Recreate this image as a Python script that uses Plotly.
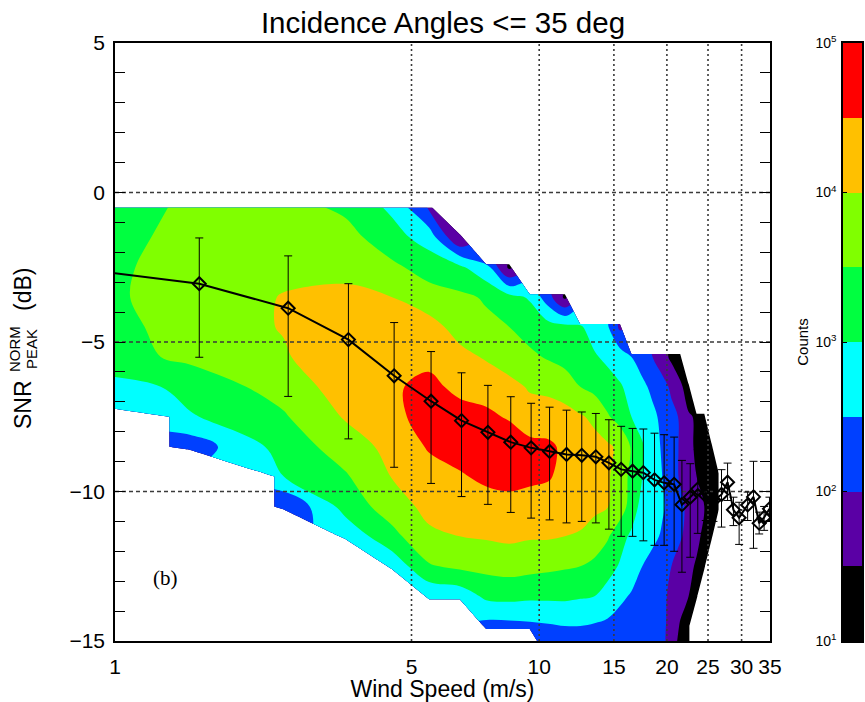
import numpy as np
import plotly.graph_objects as go

N = None

# Grid nodes of the 2-D histogram (wind-speed bin centres, SNR bin centres)
wind_nodes = [0.5, 1.5, 2.5, 3.5, 4.5, 5.5, 6.5, 7.5, 8.5, 9.5, 10.5, 11.5, 12.5, 13.5,
              14.5, 15.5, 16.5, 17.5, 18.5, 19.5, 20.5, 21.5, 22.5, 23.5, 24.5, 25.5, 26.5]
snr_nodes = [-0.5, -1.5, -2.5, -3.5, -4.5, -5.5, -6.5, -7.5, -8.5, -9.5, -10.5, -11.5,
             -12.5, -13.5, -14.5, -15.5]

# log10(counts) for each wind column, SNR rows from -0.5 dB down to -15.5 dB
w00_5 = [3.0, 2.86, 2.9, 2.9, 2.8, 2.9, 1.8, N, N, N, N, N, N, N, N, N]
w01_5 = [3.56, 3.65, 3.72, 3.75, 3.7, 3.6, 3.2, 2.95, 2.2, N, N, N, N, N, N, N]
w02_5 = [3.7, 3.85, 3.9, 4.02, 4.03, 3.95, 3.7, 3.45, 3.2, 3.0, 2.0, N, N, N, N, N]
w03_5 = [3.4, 3.68, 3.9, 4.08, 4.3, 4.35, 4.25, 4.05, 3.75, 3.45, 3.2, 2.65, N, N, N, N]
w04_5 = [2.9, 3.2, 3.6, 4.0, 4.3, 4.4, 4.45, 4.4, 4.15, 4.02, 3.75, 3.35, 2.65, N, N, N]
w05_5 = [1.95, 2.77, 3.3, 3.7, 4.2, 4.4, 4.6, 4.65, 4.55, 4.3, 4.15, 3.9, 3.45, 2.6, N, N]
w06_5 = [N, 1.5, 3.1, 3.6, 3.8, 4.15, 4.4, 4.65, 4.7, 4.45, 4.2, 4.0, 3.6, 2.7, N, N]
w07_5 = [N, N, 2.6, 3.45, 3.6, 3.95, 4.3, 4.6, 4.75, 4.6, 4.3, 4.05, 3.65, 3.1, 2.35, N]
w08_5 = [N, N, 1.4, 3.15, 3.5, 3.75, 4.15, 4.45, 4.8, 4.65, 4.35, 4.1, 3.7, 3.15, 2.35, N]
w09_5 = [N, N, N, 2.95, 3.3, 3.6, 3.95, 4.2, 4.65, 4.6, 4.3, 4.05, 3.65, 3.1, 2.4, N]
w10_5 = [N, N, N, 2.2, 3.2, 3.45, 3.9, 4.2, 4.6, 4.55, 4.25, 4.05, 3.6, 3.1, 2.45, 1.9]
w11_5 = [N, N, N, 1.4, 3.15, 3.3, 3.8, 4.15, 4.4, 4.35, 4.25, 4.0, 3.55, 3.1, 2.5, 2.1]
w12_5 = [N, N, N, N, 3.05, 3.2, 3.5, 4.05, 4.2, 4.2, 4.2, 3.95, 3.5, 3.05, 2.5, 2.15]
w13_5 = [N, N, N, N, 2.8, 3.05, 3.35, 3.9, 4.15, 4.1, 4.12, 3.75, 3.4, 3.0, 2.45, 2.1]
w14_5 = [N, N, N, N, 2.55, 2.9, 3.2, 3.55, 4.08, 4.05, 4.02, 3.55, 3.2, 2.8, 2.4, 2.1]
w15_5 = [N, N, N, N, 1.9, 2.75, 3.05, 3.3, 3.9, 3.8, 3.75, 3.2, 2.95, 2.6, 2.3, 2.05]
w16_5 = [N, N, N, N, N, 2.5, 2.85, 3.0, 3.45, 3.35, 3.3, 2.9, 2.75, 2.45, 2.25, 2.05]
w17_5 = [N, N, N, N, N, 2.3, 2.6, 2.8, 3.05, 3.0, 2.8, 2.75, 2.5, 2.3, 2.2, 2.0]
w18_5 = [N, N, N, N, N, 2.0, 2.4, 2.6, 2.7, 2.75, 2.7, 2.6, 2.35, 2.2, 2.15, 2.0]
w19_5 = [N, N, N, N, N, 1.7, 2.2, 2.4, 2.45, 2.5, 2.55, 2.45, 2.2, 2.1, 2.1, 2.0]
w20_5 = [N, N, N, N, N, 1.4, 1.9, 2.15, 2.2, 2.2, 2.35, 2.25, 2.0, 1.9, 1.85, 1.7]
w21_5 = [N, N, N, N, N, 1.15, 1.6, 1.95, 1.95, 1.95, 2.1, 2.05, 1.8, 1.7, 1.45, 1.25]
w22_5 = [N, N, N, N, N, N, 1.25, 1.55, 1.65, 1.7, 1.9, 1.85, 1.6, 1.5, 1.1, 1.05]
w23_5 = [N, N, N, N, N, N, N, 1.45, 1.4, 1.5, 1.7, 1.6, 1.45, 1.3, N, N]
w24_5 = [N, N, N, N, N, N, N, 1.2, 1.3, 1.35, 1.5, 1.4, 1.2, N, N, N]
w25_5 = [N, N, N, N, N, N, N, N, 1.1, 1.2, 1.3, 1.2, N, N, N, N]
w26_5 = [N, N, N, N, N, N, N, N, N, 1.1, 1.1, N, N, N, N, N]

columns = [w00_5, w01_5, w02_5, w03_5, w04_5, w05_5, w06_5, w07_5, w08_5, w09_5,
           w10_5, w11_5, w12_5, w13_5, w14_5, w15_5, w16_5, w17_5, w18_5, w19_5,
           w20_5, w21_5, w22_5, w23_5, w24_5, w25_5, w26_5]

# Binned mean SNR with spread, per wind-speed bin
wind_mean = [0.56, 1.58, 2.56, 3.55, 4.55, 5.56, 6.56, 7.57, 8.57, 9.57, 10.58, 11.6,
             12.6, 13.6, 14.6, 15.6, 16.6, 17.6, 18.7, 19.7, 20.8, 21.7, 22.7, 23.65,
             24.7, 25.75, 26.9, 27.8, 28.7, 29.6, 31.0, 32.0, 33.0, 33.9, 34.9]
snr_mean = [-2.25, -3.05, -3.87, -4.92, -6.13, -6.98, -7.63, -8.02, -8.35, -8.54, -8.66,
            -8.76, -8.79, -8.84, -9.04, -9.26, -9.32, -9.37, -9.61, -9.71, -9.76, -10.44,
            -10.19, -9.92, -10.14, -10.3, -10.1, -9.69, -10.61, -10.88, -10.45, -10.18,
            -11.06, -10.87, -10.58]
snr_upper = [-0.6, -1.52, -2.12, -3.05, -4.35, -5.32, -6.03, -6.45, -6.83, -7.05, -7.18,
             -7.28, -7.34, -7.39, -7.6, -7.82, -7.89, -7.91, -8.05, -8.1, -8.18, -8.96,
             -9.07, -8.6, -9.52, -9.6, -9.27, -9.05, -10.19, -10.36, -10.02, -8.99,
             -10.69, -10.5, -10.19]
snr_lower = [-4.2, -5.51, -6.82, -8.24, -9.19, -9.73, -10.17, -10.43, -10.7, -10.89,
             -10.95, -11.05, -11.0, -11.05, -11.26, -11.5, -11.5, -11.65, -11.8, -11.8,
             -12.0, -12.7, -12.2, -11.4, -10.97, -11.0, -11.19, -10.3, -11.14, -11.77,
             -10.97, -11.9, -11.42, -11.3, -10.97]

# Count bands (log10) and their fill colours
level_start, level_end, level_step = 1.0, 5.0, 0.5
band_colors = ["#000000", "#5a00a5", "#0040ff", "#00ffff",
               "#00ff40", "#80ff00", "#ffc000", "#ff0000"]
count_ticks = [10, 100, 1000, 10000, 100000]
count_ticktext = ["10<sup>1</sup>", "10<sup>2</sup>", "10<sup>3</sup>",
                  "10<sup>4</sup>", "10<sup>5</sup>"]

grid_winds = [5, 10, 15, 20, 25, 30]
grid_snrs = [0, -5, -10]
x_ticks = [1, 5, 10, 15, 20, 25, 30, 35]

FONT = "Liberation Sans, Arial, Helvetica, sans-serif"

# --- derived structures -------------------------------------------------
z = [[columns[c][r] for c in range(len(wind_nodes))] for r in range(len(snr_nodes))]

n_bands = len(band_colors)
colorscale = [[0.0, "#ffffff"]]
for i, col in enumerate(band_colors):
    colorscale.append([(i + 1) / (n_bands + 1), col])
colorscale.append([1.0, band_colors[-1]])

err_plus = [u - m for u, m in zip(snr_upper, snr_mean)]
err_minus = [m - l for m, l in zip(snr_mean, snr_lower)]

fig = go.Figure()

fig.add_trace(go.Contour(
    x=wind_nodes, y=snr_nodes, z=z,
    contours=dict(start=level_start, end=level_end, size=level_step,
                  coloring="fill", showlines=False),
    colorscale=colorscale, showscale=False, connectgaps=False,
    line=dict(width=0), hoverinfo="skip",
))

for w in grid_winds:
    fig.add_trace(go.Scatter(x=[w, w], y=[-15, 5], mode="lines",
                             line=dict(color="#3a3a3a", width=1.6, dash="2px,3px"),
                             hoverinfo="skip", showlegend=False))
for s in grid_snrs:
    fig.add_trace(go.Scatter(x=[1, 35], y=[s, s], mode="lines",
                             line=dict(color="#3a3a3a", width=1.3, dash="4px,3px"),
                             hoverinfo="skip", showlegend=False))

fig.add_trace(go.Scatter(
    x=wind_mean, y=snr_mean, mode="lines+markers",
    line=dict(color="black", width=2),
    marker=dict(symbol="diamond-open", size=10, color="black", line=dict(width=2)),
    error_y=dict(type="data", symmetric=False, array=err_plus, arrayminus=err_minus,
                 color="black", thickness=1, width=4),
    showlegend=False, hoverinfo="skip",
))

# colour key drawn as a one-column heatmap on its own log axis
band_edges = [10 ** (level_start + i * level_step) for i in range(n_bands + 1)]
band_mid = [[level_start + (i + 0.5) * level_step] for i in range(n_bands)]
fig.add_trace(go.Heatmap(
    x=[0, 1], y=band_edges, z=band_mid, xaxis="x2", yaxis="y2",
    colorscale=colorscale, zmin=level_start - level_step / 2,
    zmax=level_end + level_step / 2, showscale=False, hoverinfo="skip",
))

PW = 865 - 115 - 3  # paper width in px

fig.update_layout(
    width=865, height=702,
    margin=dict(l=115, r=3, t=43, b=61, autoexpand=False),
    paper_bgcolor="white", plot_bgcolor="white",
    font=dict(family=FONT, color="black"),
    showlegend=False,
    title=dict(text="Incidence Angles <= 35 deg", x=443 / 865, xanchor="center",
               y=1 - 23 / 702, yanchor="middle", font=dict(size=29.5, family=FONT)),
    xaxis=dict(type="log", domain=[0, 655 / PW], range=[0, np.log10(35)],
               tickvals=x_ticks, ticktext=[str(t) for t in x_ticks],
               tickfont=dict(size=21), ticks="", showgrid=False, zeroline=False,
               showline=True, linecolor="black", linewidth=1.5, mirror=True,
               ticklabelstandoff=6, automargin=False,
               title=dict(text="Wind Speed (m/s)", font=dict(size=23), standoff=2)),
    yaxis=dict(range=[-15, 5], dtick=5, tickfont=dict(size=21), ticks="inside",
               ticklen=10, tickcolor="black", tickwidth=1.2,
               minor=dict(dtick=1, ticks="inside", ticklen=10, tickcolor="black",
                          tickwidth=1.2),
               showgrid=False, zeroline=False, showline=True, linecolor="black",
               linewidth=1.5, mirror="allticks", ticklabelstandoff=4, automargin=False),
    xaxis2=dict(domain=[728 / PW, 1.0], range=[0, 1], anchor="y2", showticklabels=False,
                ticks="", showgrid=False, zeroline=False, showline=True,
                linecolor="black", linewidth=1.5, mirror=True, automargin=False),
    yaxis2=dict(type="log", range=[1, 5], anchor="x2", side="left",
                tickvals=count_ticks, ticktext=count_ticktext, tickfont=dict(size=14),
                ticks="inside", ticklen=4, tickcolor="black", showgrid=False,
                zeroline=False, showline=True, linecolor="black", linewidth=1.5,
                mirror=True, ticklabelstandoff=2, automargin=False,
                title=dict(text="Counts", font=dict(size=15), standoff=3)),
)

# y-axis label: SNR with stacked NORM (superscript) / PEAK (subscript), then (dB)
label_parts = [("SNR", -92, 405, 23), ("NORM", -101, 349, 15),
               ("PEAK", -84, 349, 15), ("(dB)", -92, 290, 23)]
for txt, dx, ypx, fsize in label_parts:
    fig.add_annotation(text=txt, xref="paper", yref="paper", x=dx / PW,
                       y=(641 - ypx) / 598, textangle=-90, showarrow=False,
                       font=dict(size=fsize, family=FONT),
                       xanchor="center", yanchor="middle")

fig.add_annotation(text="(b)", xref="paper", yref="paper", x=(165 - 115) / PW,
                   y=(641 - 578) / 598, showarrow=False,
                   font=dict(size=21, family="Liberation Serif, Times New Roman, serif"),
                   xanchor="center", yanchor="middle")

fig.write_html("out.html")
